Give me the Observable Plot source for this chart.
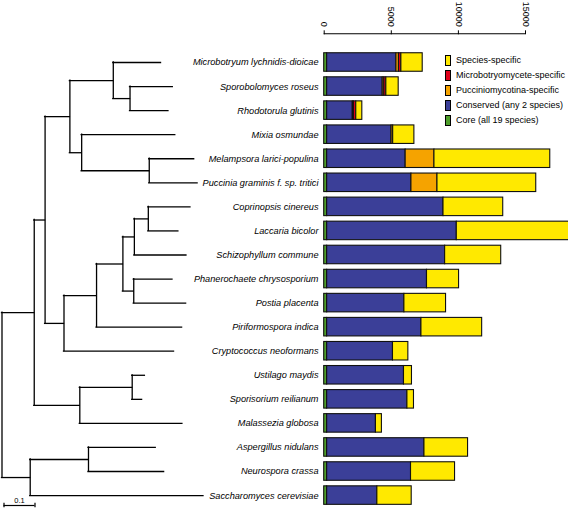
<!DOCTYPE html>
<html><head><meta charset="utf-8">
<script src="https://cdn.jsdelivr.net/npm/d3@7"></script>
<script src="https://cdn.jsdelivr.net/npm/@observablehq/plot@0.6"></script>
<style>
body{margin:0;background:#fff;}
#wrap{position:relative;width:568px;height:518px;overflow:hidden;background:#fff;font-family:"Liberation Sans",Arial,sans-serif;}
#wrap svg{position:absolute;left:0;top:0;overflow:hidden;}
.lg{position:absolute;left:445px;font-size:9px;line-height:11px;color:#000;white-space:nowrap;}
.lg span.sw{display:inline-block;width:4px;height:9px;border:1px solid #000;vertical-align:top;margin-right:5px;}
</style></head><body><div id="wrap"></div>
<script>
// ---- data ----
const species = [
  "Microbotryum lychnidis-dioicae","Sporobolomyces roseus","Rhodotorula glutinis","Mixia osmundae",
  "Melampsora larici-populina","Puccinia graminis f. sp. tritici","Coprinopsis cinereus","Laccaria bicolor",
  "Schizophyllum commune","Phanerochaete chrysosporium","Postia placenta","Piriformospora indica",
  "Cryptococcus neoformans","Ustilago maydis","Sporisorium reilianum","Malassezia globosa",
  "Aspergillus nidulans","Neurospora crassa","Saccharomyces cerevisiae"];
const core              = [220,220,220,220,220,220,220,220,220,220,220,220,220,220,220,220,220,220,220];
const conserved         = [5160,4140,1910,4800,5850,6280,8670,9660,8790,7440,5755,7025,4905,5725,5980,3635,7250,6250,3740];
const pucciniomycotina  = [190,120,80,120,2145,1940,0,0,0,0,0,0,0,0,0,0,0,0,0];
const microbotryomycete = [180,150,180,0,0,0,0,0,0,0,0,0,0,0,0,0,0,0,0];
const speciesSpecific   = [1590,920,450,1580,8630,7360,4450,10720,4180,2390,3105,4525,1145,595,490,445,3250,3280,2560];
const categories = ["Core (all 19 species)","Conserved (any 2 species)","Pucciniomycotina-specific","Microbotryomycete-specific","Species-specific"];
const categoryColors = ["#4e9e2a","#3b3f98","#f5a300","#e0001a","#ffe900"];
const xTicks = [0, 5000, 10000, 15000];
const scaleBarLength = 0.1;
const scaleBarLabel = "0.1";

// tree: edges (parent -> child) with branch lengths
const treeParent = ["root","root","Basidiomycota","Basidiomycota","nBP","nBP",
  "Pucciniomycotina","Pucciniomycotina","Microbotryomycetes","Microbotryomycetes","nSR","nSR",
  "nMxMP","nMxMP","Pucciniales","Pucciniales",
  "Agaricomycotina","Agaricomycotina","nA1","nA1","nA2","nA2","Agaricales","Agaricales","nA4","nA4","Polyporales","Polyporales",
  "Ustilaginomycotina","Ustilaginomycotina","Ustilaginales","Ustilaginales",
  "Ascomycota","Ascomycota","Pezizomycotina","Pezizomycotina"];
const treeChild = ["Basidiomycota","Ascomycota","nBP","Ustilaginomycotina","Pucciniomycotina","Agaricomycotina",
  "Microbotryomycetes","nMxMP","Microbotryum lychnidis-dioicae","nSR","Sporobolomyces roseus","Rhodotorula glutinis",
  "Mixia osmundae","Pucciniales","Melampsora larici-populina","Puccinia graminis f. sp. tritici",
  "nA1","Cryptococcus neoformans","nA2","Piriformospora indica","Agaricales","Polyporales","nA4","Schizophyllum commune","Coprinopsis cinereus","Laccaria bicolor","Phanerochaete chrysosporium","Postia placenta",
  "Ustilaginales","Malassezia globosa","Ustilago maydis","Sporisorium reilianum",
  "Pezizomycotina","Saccharomyces cerevisiae","Aspergillus nidulans","Neurospora crassa"];
const branchLength = [0.104,0.091,0.035,0.147,0.080,0.061,
  0.140,0.038,0.154,0.054,0.138,0.124,
  0.302,0.218,0.145,0.156,
  0.105,0.355,0.085,0.276,0.037,0.035,0.045,0.168,0.136,0.097,0.125,0.169,
  0.169,0.331,0.041,0.032,
  0.188,0.559,0.217,0.244];

// ---- layout constants ----
const W = 568, H = 518;
const rowFirst = 62, rowStep = 24.06, barHalf = 0.3845;
const axisY = 33.3;
const font = "'Liberation Sans', Arial, sans-serif";
const n = species.length;
const yScale = {domain: [0, n - 1], range: [rowFirst, rowFirst + rowStep * (n - 1)]};
const treeStroke = 1.3;

// ---- tree layout ----
const kids = new Map();
treeChild.forEach((c, i) => {
  const p = treeParent[i];
  if (!kids.has(p)) kids.set(p, []);
  kids.get(p).push({name: c, len: branchLength[i]});
});
const nodes = [];
function layout(name, x, parentX) {
  const ch = kids.get(name) || [];
  const cn = ch.map(c => layout(c.name, x + c.len, x));
  const node = {name, x, parentX};
  if (cn.length === 0) node.y = species.indexOf(name);
  else {
    node.y1 = d3.min(cn, d => d.y);
    node.y2 = d3.max(cn, d => d.y);
    node.y = (node.y1 + node.y2) / 2;
  }
  nodes.push(node);
  return node;
}
layout("root", 0, null);
const branches = nodes.filter(d => d.parentX != null);
const joints = nodes.filter(d => d.y1 != null);
const scaleRow = (505 - rowFirst) / rowStep;

const tree = Plot.plot({
  width: W, height: H,
  marginLeft: 1, marginRight: W - 318, marginTop: 0, marginBottom: 0,
  style: {background: "transparent", fontFamily: font, overflow: "hidden"},
  x: {domain: [0, 1], range: [1.5, 311.5], axis: null},
  y: {...yScale, axis: null},
  marks: [
    Plot.ruleY(branches, {y: "y", x1: "parentX", x2: "x", stroke: "#000", strokeWidth: treeStroke, strokeLinecap: "square"}),
    Plot.ruleX(joints, {x: "x", y1: "y1", y2: "y2", stroke: "#000", strokeWidth: treeStroke, strokeLinecap: "square"}),
    Plot.text(species, {y: (d, i) => i, text: d => d, frameAnchor: "right", textAnchor: "end",
      fontStyle: "italic", fontSize: 9.2, fill: "#000"}),
    Plot.ruleY([scaleRow], {x1: 0, x2: scaleBarLength, dx: 2, stroke: "#000", strokeWidth: 1.2}),
    Plot.ruleX([0, scaleBarLength], {x: d => d, y1: scaleRow - 0.09, y2: scaleRow + 0.09, dx: 2, stroke: "#000", strokeWidth: 1.2}),
    Plot.text([scaleBarLabel], {x: scaleBarLength / 2, y: scaleRow, text: d => d, dx: 2, dy: -5, fontSize: 7.5, fill: "#000"})
  ]
});

// ---- bars ----
const parts = [core, conserved, pucciniomycotina, microbotryomycete, speciesSpecific];
const rows = [];
species.forEach((s, i) => {
  let acc = 0;
  parts.forEach((arr, k) => {
    const v = arr[i];
    if (v > 0) rows.push({species: s, i, category: categories[k], x1: acc, x2: acc + v});
    acc += v;
  });
});
const axisRow = (axisY - rowFirst) / rowStep;

const bars = Plot.plot({
  width: W, height: H,
  marginLeft: 323.7, marginRight: W - 525, marginTop: axisY, marginBottom: H - 495.08 - 13,
  style: {background: "transparent", fontFamily: font, fontSize: "9px", overflow: "hidden"},
  x: {domain: [0, 15000]},
  y: {...yScale, axis: null},
  color: {domain: categories, range: categoryColors},
  marks: [
    Plot.rectX(rows, {x1: "x1", x2: "x2", y1: d => d.i - barHalf, y2: d => d.i + barHalf,
      fill: "category", stroke: "#111", strokeWidth: 1.1}),
    Plot.ruleY([axisRow], {x1: 0, x2: 15000, stroke: "#000", strokeWidth: 1.1}),
    Plot.axisX({anchor: "top", ticks: xTicks, tickSize: 4, tickPadding: 3, tickRotate: 90,
      tickFormat: d => String(d), fontSize: 9, stroke: "#000", fill: "#000"})
  ]
});

const wrap = document.getElementById("wrap");
wrap.appendChild(bars);
wrap.appendChild(tree);

// legend (top to bottom)
const legendOrder = [4, 3, 2, 1, 0];
legendOrder.forEach((k, j) => {
  const el = document.createElement("div");
  el.className = "lg";
  el.style.top = (54.5 + j * 15) + "px";
  const sw = document.createElement("span");
  sw.className = "sw";
  sw.style.background = categoryColors[k];
  el.appendChild(sw);
  el.appendChild(document.createTextNode(categories[k]));
  wrap.appendChild(el);
});
</script></body></html>
